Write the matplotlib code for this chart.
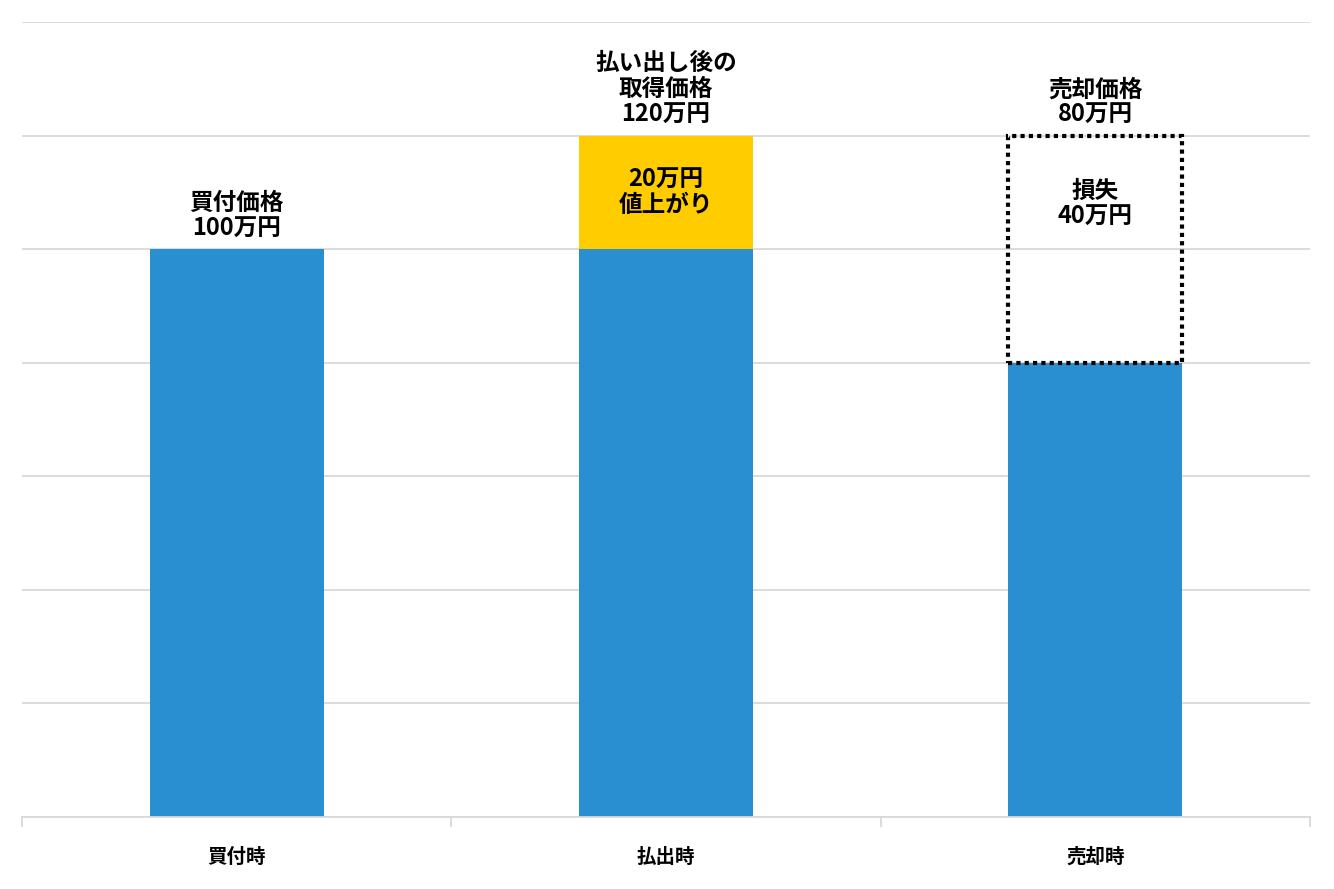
import matplotlib
matplotlib.use("Agg")
import matplotlib.pyplot as plt

plt.rcParams['font.family'] = ['Noto Sans CJK JP', 'DejaVu Sans']

categories = ['買付時', '払出時', '売却時']
base = [100, 100, 80]
gain = [0, 20, 0]
loss = [0, 0, 40]
top_labels = ['買付価格\n100万円', '払い出し後の\n取得価格\n120万円', '売却価格\n80万円']
inner_labels = ['', '20万円\n値上がり', '損失\n40万円']

fig = plt.figure(figsize=(13.34, 8.89), dpi=100)
ax = fig.add_axes([22/1334, 72/889, 1288/1334, 795/889])
x = range(len(categories))
w = 0.405
ax.bar(x, base, width=w, color='#2A8FD0', zorder=2)
ax.bar(x, gain, width=w, bottom=base, color='#FFCC00', zorder=2)
for i in x:
    if loss[i]:
        ax.bar(i, loss[i], width=w, bottom=base[i], fill=False, edgecolor='black',
               linestyle=(0, (1, 1)), linewidth=3, zorder=3)
for i in x:
    tot = base[i] + gain[i] + loss[i]
    ax.text(i, tot + 1.5, top_labels[i], ha='center', va='bottom', fontsize=17,
            fontweight='bold', linespacing=1.1)
    if inner_labels[i]:
        b = base[i]
        h = gain[i] + loss[i]
        yc = b + h / 2 if gain[i] else b + h * 0.7
        ax.text(i, yc, inner_labels[i], ha='center', va='center', fontsize=17,
                fontweight='bold', linespacing=1.1)

ax.set_xlim(-0.5, 2.5)
ax.set_ylim(0, 140)
ax.set_yticks(range(0, 141, 20))
ax.yaxis.grid(True, color='#D9D9D9', linewidth=1.3, zorder=0)
ax.tick_params(axis='y', length=0, labelleft=False)
ax.set_xticks(list(x))
ax.set_xticklabels(categories, fontsize=14, fontweight='bold')
ax.tick_params(axis='x', which='major', length=0, pad=22)
ax.set_xticks([-0.5, 0.5, 1.5, 2.5], minor=True)
ax.tick_params(axis='x', which='minor', length=7, color='#D9D9D9', width=1.3)
for s in ['top', 'left', 'right']:
    ax.spines[s].set_visible(False)
ax.spines['bottom'].set_color('#D9D9D9')
ax.spines['bottom'].set_linewidth(1.3)
fig.savefig('out.png', dpi=100)
